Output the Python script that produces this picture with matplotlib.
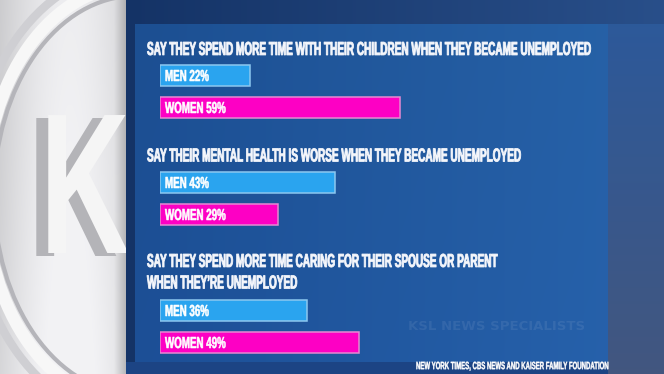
import numpy as np
import matplotlib
matplotlib.use("Agg")
import matplotlib.pyplot as plt
from matplotlib.patches import Rectangle, Ellipse, Arc
from matplotlib.patheffects import AbstractPathEffect
from matplotlib.transforms import Affine2D, ScaledTranslation
from matplotlib.text import Text
from matplotlib.colors import to_rgba

# ---------------- data ----------------
questions = [
    "SAY THEY SPEND MORE TIME WITH THEIR CHILDREN WHEN THEY BECAME UNEMPLOYED",
    "SAY THEIR MENTAL HEALTH IS WORSE WHEN THEY BECAME UNEMPLOYED",
    "SAY THEY SPEND MORE TIME CARING FOR THEIR SPOUSE OR PARENT\nWHEN THEY\u2019RE UNEMPLOYED",
]
groups = ["MEN", "WOMEN"]
men = [22, 43, 36]
women = [59, 29, 49]
source = "NEW YORK TIMES, CBS NEWS AND KAISER FAMILY FOUNDATION"
watermark = "KSL NEWS SPECIALISTS"

# ---------------- layout (pixels) ----------------
W, H = 664, 374
title_y = [48.5, 155, 260.5]
line_gap = 21.5
bar_y = {"MEN": [75, 182, 310], "WOMEN": [107, 214, 342]}
bar_h = 21
colors = {"MEN": "#2aa4ef", "WOMEN": "#fd00c4"}
edges = {"MEN": "#8cc8f0", "WOMEN": "#e58ad2"}
FONT = ["Liberation Sans Narrow", "Liberation Sans", "DejaVu Sans"]
CAP = 0.688  # cap height / em
TITLE_CAP, LABEL_CAP, SOURCE_CAP = 12.9, 11.0, 7.3


class Stretch(AbstractPathEffect):
    """Stretch glyphs vertically about the baseline (condensed look); optional embolden/shadow."""
    def __init__(self, sy, stroke=0.0, shadow=None):
        super().__init__()
        self.sy = sy
        self.stroke = stroke
        self.shadow = shadow

    def draw_path(self, renderer, gc, tpath, affine, rgbFace=None):
        tr = Affine2D().scale(1.0, self.sy) + affine
        if self.shadow is not None:
            dx, dy, col = self.shadow
            gcs = renderer.new_gc()
            gcs.copy_properties(gc)
            gcs.set_linewidth(0)
            renderer.draw_path(gcs, tpath, tr + Affine2D().translate(dx, -dy), to_rgba(col))
            gcs.restore()
        if self.stroke > 0 and rgbFace is not None:
            gc0 = renderer.new_gc()
            gc0.copy_properties(gc)
            gc0.set_linewidth(self.stroke)
            gc0.set_foreground(rgbFace)
            gc0.set_joinstyle("round")
            renderer.draw_path(gc0, tpath, tr, rgbFace)
            gc0.restore()
        else:
            renderer.draw_path(gc, tpath, tr, rgbFace)


def fit(texts, ref, target_w, cap_px, renderer, stroke=0.0, shadow=None):
    """Size texts so `ref` is target_w wide, then stretch glyphs to cap_px cap height."""
    fs = ref.get_fontsize() * target_w / Text.get_window_extent(ref, renderer).width
    sy = cap_px / (CAP * fs * 100 / 72)
    for t in texts:
        t.set_fontsize(fs)
        t.set_path_effects([Stretch(sy, stroke, shadow)])


fig = plt.figure(figsize=(W / 100, H / 100), dpi=100)
bg = fig.add_axes([0, 0, 1, 1])
bg.set_xlim(0, W)
bg.set_ylim(H, 0)
bg.axis("off")
renderer = fig.canvas.get_renderer()

# ---------------- background ----------------
X, Y = np.meshgrid(np.arange(W) + 0.5, np.arange(H) + 0.5)
img = np.zeros((H, W, 3))
tx = (X - 126) / (W - 126)
ty = Y / H
outer = np.stack([0.08 + 0.08 * tx, 0.20 + 0.11 * tx, 0.40 + 0.14 * tx], -1)
img[:] = outer
inner = (X >= 135) & (X < 608) & (Y >= 24) & (Y < 362)
tin = np.clip((X - 135) / 473, 0, 1)
inner_col = np.stack([0.11 + 0.04 * tin, 0.31 + 0.07 * tin, 0.57 + 0.08 * tin + 0.02 * ty], -1)
img[inner] = inner_col[inner]
right = (X >= 608) & (Y >= 24)
right_col = np.stack([0.17 + 0.09 * ty, 0.35 - 0.01 * ty, 0.61 - 0.11 * ty], -1)
img[right] = right_col[right]
bottom = (X >= 126) & (X < 608) & (Y >= 362)
img[bottom] = np.array([0.11, 0.27, 0.52])
# gray logo wall
gray = X < 126
gx = X / 126
v = 0.80 + 0.13 * np.sin(np.clip(gx, 0, 1) * np.pi * 0.9) + 0.04 * ty
v = np.clip(v, 0, 0.95)
img[gray] = np.stack([v, v, v + 0.01], -1)[gray]
sh = (X >= 114) & (X < 126)
img[sh] = img[sh] * (1 - 0.18 * ((X[sh] - 114) / 12))[:, None]
bg.imshow(img, extent=(0, W, H, 0), aspect="auto", interpolation="bilinear", zorder=0)

# swooshes in the blue area
clip_blue = Rectangle((126, 0), W - 126, H, transform=bg.transData)
for (cx, cy, w, h, t1, t2, c, a, lw) in [
        (330, 440, 2178, 880, 30, 92, "white", 0.10, 5),
        (330, 452, 2178, 880, 30, 92, "#0c2450", 0.25, 8),
        (420, 760, 1400, 1300, 40, 90, "white", 0.06, 3),
        (420, 800, 1400, 1300, 40, 90, "#0c2450", 0.12, 18)]:
    arc = Arc((cx, cy), w, h, theta1=t1, theta2=t2, color=c, alpha=a, lw=lw, zorder=1)
    bg.add_patch(arc)
    arc.set_clip_path(clip_blue)

# logo ring and letter on the gray wall
clip_gray = Rectangle((0, 0), 126, H, transform=bg.transData)
for (w, h, c, lw) in [(300, 420, "#f7f7f7", 9), (282, 398, "#b5b5ba", 3), (330, 450, "#cfcfd3", 6)]:
    e = Ellipse((135, 195), w, h, fill=False, ec=c, lw=lw, zorder=1)
    bg.add_patch(e)
    e.set_clip_path(clip_gray)
logo = bg.text(40, 253, "K", fontsize=144, fontweight="bold", family=FONT,
               color="#f5f5f5", ha="left", va="baseline", zorder=2)
logo.set_clip_on(True)
logo.set_clip_path(clip_gray)
fit([logo], logo, 0.62 * Text.get_window_extent(logo, renderer).width, 138, renderer,
    shadow=(-12, 3, "#b4b4b8"))

# watermark
bg.text(408, 330, watermark, fontsize=9.5, fontweight="bold", family="DejaVu Sans",
        color="white", alpha=0.08, ha="left", va="baseline", zorder=2)

# ---------------- titles ----------------
titles = []
for q, yc in zip(questions, title_y):
    for k, line in enumerate(q.split("\n")):
        yb = yc + k * line_gap + TITLE_CAP / 2
        titles.append(bg.text(147, yb, line, fontsize=13.5, fontweight="bold", family=FONT,
                              color="#f4f6fb", ha="left", va="baseline", zorder=5))
fit(titles, titles[0], 444, TITLE_CAP, renderer, stroke=0.6)

# ---------------- bars ----------------
bx = fig.add_axes([160 / W, 0, 407 / W, 1])
bx.set_xlim(0, 100)
bx.set_ylim(H, 0)
bx.axis("off")
bx.patch.set_visible(False)

labels, ref = [], None
off = ScaledTranslation(5 / 100, 0, fig.dpi_scale_trans)
for g, vals in zip(groups, [men, women]):
    bx.barh(bar_y[g], vals, height=bar_h, left=0, color=colors[g], edgecolor=edges[g],
            linewidth=1.1, zorder=3)
    for yv, val in zip(bar_y[g], vals):
        lt = bx.text(0, yv + LABEL_CAP / 2 + 0.5, f"{g} {val}%", fontsize=11.5,
                     fontweight="bold", family=FONT, color="white", ha="left",
                     va="baseline", transform=bx.transData + off, zorder=6)
        labels.append(lt)
        if g == "WOMEN" and ref is None:
            ref = lt
fit(labels, ref, 61, LABEL_CAP, renderer, stroke=0.4)

# ---------------- source ----------------
st = bg.text(416, 365.5 + SOURCE_CAP / 2, source, fontsize=7.6, fontweight="bold",
             family=FONT, color="white", ha="left", va="baseline", zorder=5)
fit([st], st, 192, SOURCE_CAP, renderer, stroke=0.3)

fig.savefig("out.png", dpi=100)
